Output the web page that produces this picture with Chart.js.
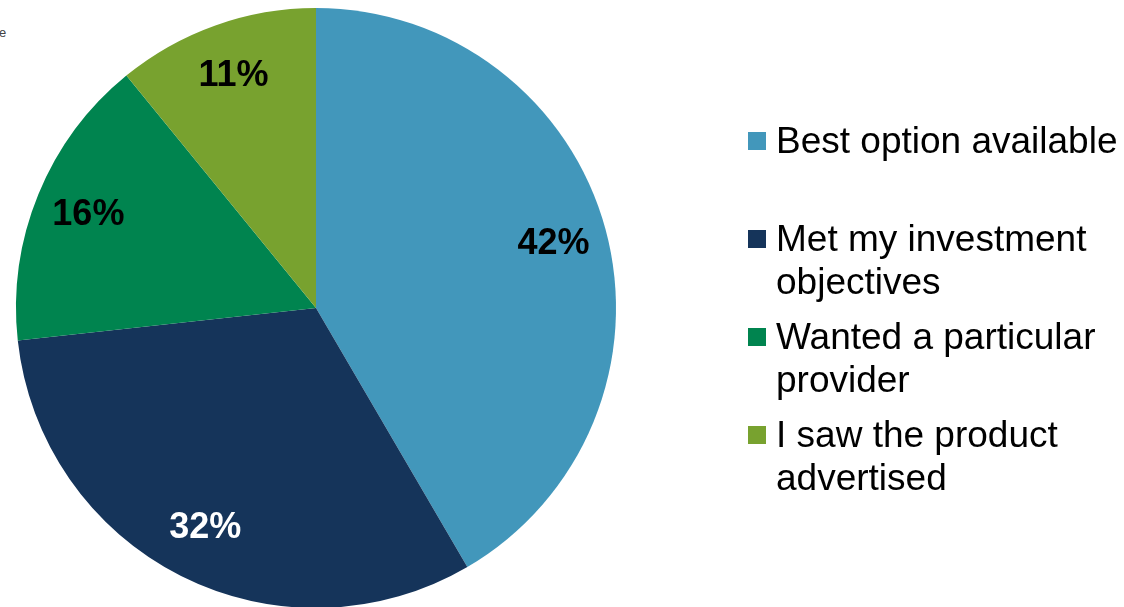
<!DOCTYPE html>
<html>
<head>
<meta charset="utf-8">
<script src="https://cdn.jsdelivr.net/npm/chart.js@4.4.0/dist/chart.umd.min.js"></script>
<style>
  html, body { margin: 0; padding: 0; background: #fff; overflow: hidden; }
  body { width: 1124px; height: 607px; position: relative; }
  #wrap { position: absolute; left: 0; top: 0; width: 1124px; height: 616px; }
  #clip { position: absolute; left: -1px; top: 25px; font: 13px "Liberation Sans", Arial, sans-serif; color: #444; }
</style>
</head>
<body>
<div id="clip">e</div>
<div id="wrap"><canvas id="pieChart" width="1124" height="616"></canvas></div>
<script>
// reasons for choosing the product (percent of respondents)
const reasons = [
  ["Best option available"],
  ["Met my investment", "objectives"],
  ["Wanted a particular", "provider"],
  ["I saw the product", "advertised"],
];
const shares = [42, 32, 16, 11];
const sliceColors = ["#4297BB", "#15345A", "#00844F", "#78A22F"];
const labelColors = ["#000000", "#ffffff", "#000000", "#000000"];

const FONT = '"Liberation Sans", Arial, sans-serif';

// percentage text inside each slice
const sliceLabels = {
  id: "sliceLabels",
  afterDatasetsDraw(chart) {
    const ctx = chart.ctx;
    const arcs = chart.getDatasetMeta(0).data;
    ctx.save();
    ctx.font = "bold 36px " + FONT;
    ctx.textAlign = "center";
    ctx.textBaseline = "middle";
    arcs.forEach((arc, i) => {
      const { x, y, startAngle, endAngle, outerRadius } = arc.getProps(
        ["x", "y", "startAngle", "endAngle", "outerRadius"], true);
      const mid = (startAngle + endAngle) / 2;
      const r = outerRadius * 0.82;
      ctx.fillStyle = labelColors[i];
      ctx.fillText(chart.data.datasets[0].data[i] + "%", x + Math.cos(mid) * r, y + Math.sin(mid) * r);
    });
    ctx.restore();
  },
};

// legend on the right, with wrapped labels
const sideLegend = {
  id: "sideLegend",
  afterDraw(chart) {
    const ctx = chart.ctx;
    ctx.save();
    ctx.font = "37px " + FONT;
    ctx.textBaseline = "alphabetic";
    ctx.textAlign = "left";
    chart.data.labels.forEach((lines, i) => {
      const base = 153 + i * 98;
      ctx.fillStyle = sliceColors[i];
      ctx.fillRect(748, base - 21, 18, 18);
      ctx.fillStyle = "#000";
      lines.forEach((line, j) => ctx.fillText(line, 776, base + j * 43));
    });
    ctx.restore();
  },
};

new Chart(document.getElementById("pieChart").getContext("2d"), {
  type: "pie",
  data: {
    labels: reasons,
    datasets: [
      {
        data: shares,
        backgroundColor: sliceColors,
        borderWidth: 0,
      },
    ],
  },
  options: {
    responsive: false,
    animation: false,
    devicePixelRatio: 1,
    layout: { padding: { top: 8, bottom: 8, left: 16, right: 508 } },
    plugins: {
      legend: { display: false },
      tooltip: { enabled: false },
    },
  },
  plugins: [sliceLabels, sideLegend],
});
</script>
</body>
</html>
